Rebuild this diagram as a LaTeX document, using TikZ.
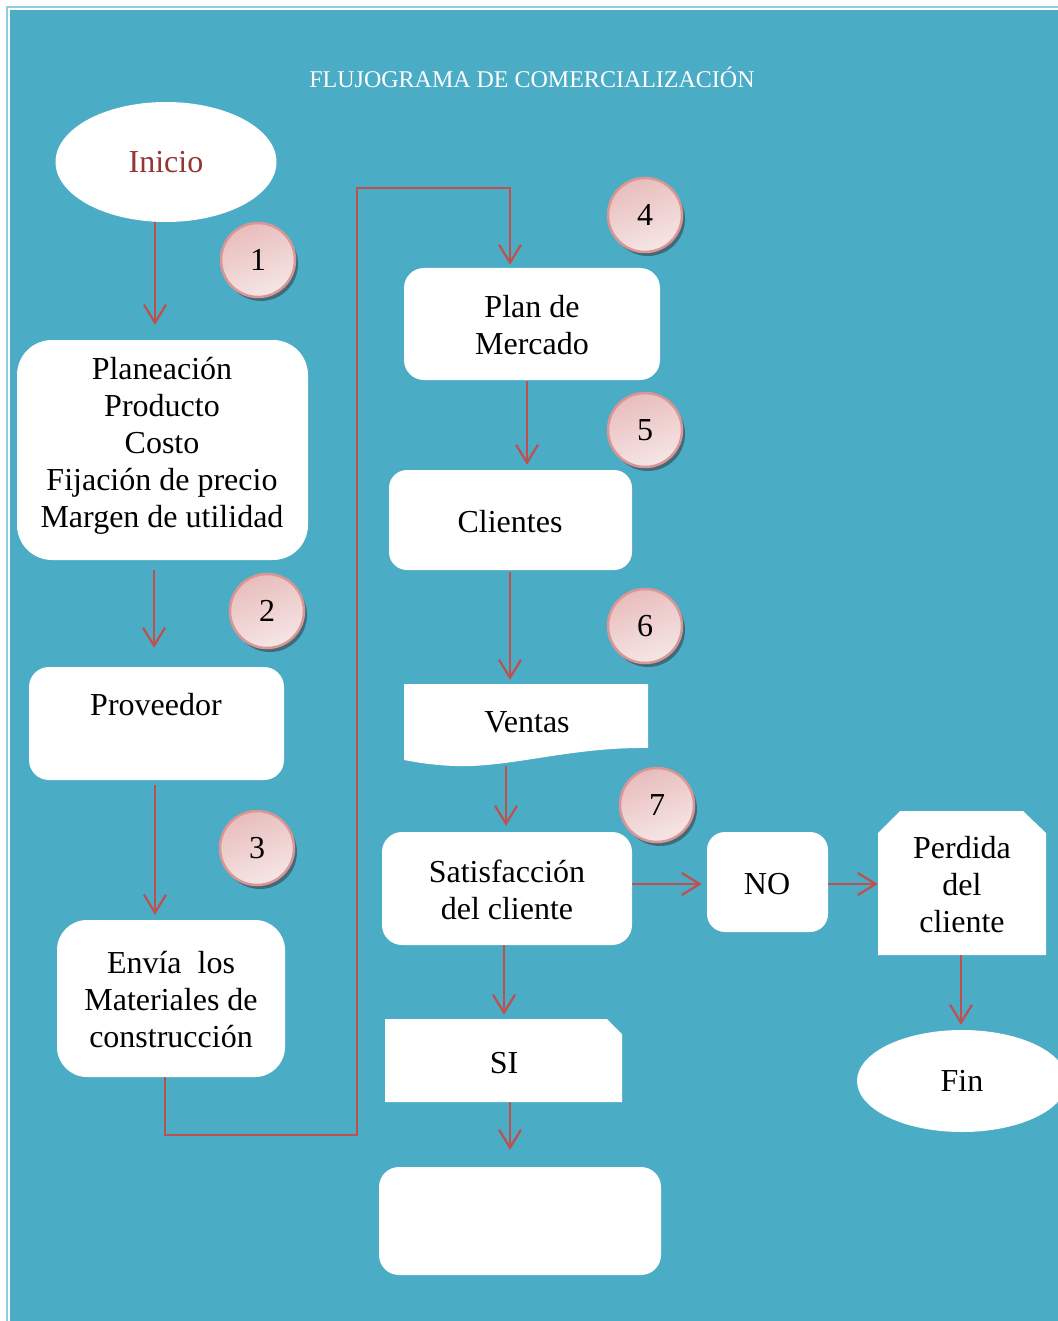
\documentclass[tikz,border=0pt]{standalone}
\usepackage{fontspec}
\setmainfont{Liberation Serif}
\usetikzlibrary{arrows.meta,calc,shapes.geometric,shadows}
\definecolor{aqua}{HTML}{4BACC6}
\definecolor{aqualight}{HTML}{8FCCDC}
\definecolor{arrowred}{HTML}{C0504D}
\definecolor{inired}{HTML}{943634}
\definecolor{pinkA}{HTML}{F6E6E6}
\definecolor{pinkB}{HTML}{E8BDBC}
\definecolor{pinkEdge}{HTML}{D99694}
\definecolor{shadowc}{HTML}{3E6573}
\begin{document}
\begin{tikzpicture}[x=1pt,y=-1pt,
  txt/.style={font=\fontsize{32}{37}\selectfont, align=center, text=black, inner sep=0pt},
  panel/.style={fill=white, rounded corners=#1, inner sep=0pt, draw=none},
  panel/.default=20pt,
  flow/.style={draw=arrowred, line width=2.2pt,
    -{Straight Barb[length=18pt,width=22pt,line width=2.2pt]}},
  badge/.style={circle, minimum size=74pt, inner sep=0pt, draw=pinkEdge, line width=2.5pt,
    shading=axis, top color=pinkA, bottom color=pinkB, shading angle=200,
    drop shadow={shadow xshift=3pt, shadow yshift=-4pt, fill=shadowc, opacity=0.9},
    font=\fontsize{32}{37}\selectfont, text=black}
]
% page and frame
\useasboundingbox (0,0) rectangle (1057,1321);
\fill[white] (0,0) rectangle (1057,1321);
\draw[aqualight, line width=2.5pt] (7,7) rectangle (1062,1330);
\fill[aqua] (10,10) rectangle (1060,1330);

% title
\node[font=\fontsize{24}{28}\selectfont, text=white, inner sep=0pt] (title) at (532,77)
  {FLUJOGRAMA DE COMERCIALIZACIÓN};

% left column
\node[ellipse, fill=white, minimum width=221pt, minimum height=120pt, inner sep=0pt,
  font=\fontsize{32}{37}\selectfont, text=inired] (inicio) at (166,162) {Inicio};

\node[panel=35pt, minimum width=291pt, minimum height=220pt] (planea) at (162.5,450) {};
\node[txt] (planeaT) at (162,446) {Planeación\\Producto\\Costo\\Fijación de precio\\Margen de utilidad};

\node[panel, minimum width=255pt, minimum height=113pt] (prov) at (156.5,723.5) {};
\node[txt] (provT) at (156,705) {Proveedor};

\node[panel=30pt, minimum width=228pt, minimum height=157pt] (envia) at (171,998.5) {};
\node[txt] (enviaT) at (171,1000) {Envía\ \ los\\Materiales de\\construcción};

% middle column
\node[panel, minimum width=256pt, minimum height=112pt] (plan) at (532,324) {};
\node[txt] (planT) at (532,325) {Plan de\\Mercado};

\node[panel=18pt, minimum width=243pt, minimum height=100pt] (clientes) at (510.5,520) {};
\node[txt] (clientesT) at (510,522) {Clientes};

% document-shaped sheet with a wavy lower edge
\fill[white] (404,684) -- (648,684) -- (648,748)
  .. controls (570,747) and (510,768) .. (455,766)
  .. controls (430,765) and (415,762) .. (404,760) -- cycle;
\node[minimum width=244pt, minimum height=82pt, inner sep=0pt] (ventas) at (526,725) {};
\node[txt] (ventasT) at (527,722) {Ventas};

\node[panel, minimum width=250pt, minimum height=113pt] (sat) at (507,888.5) {};
\node[txt] (satT) at (507,890) {Satisfacción\\del cliente};

% card with one clipped corner
\fill[white] (385,1019) -- (607,1019) -- (622,1034) -- (622,1102) -- (385,1102) -- cycle;
\node[minimum width=237pt, minimum height=83pt, inner sep=0pt] (si) at (503.5,1060.5) {};
\node[txt] (siT) at (504,1063) {SI};

\node[panel, minimum width=282pt, minimum height=108pt] (last) at (520,1221) {};

% right column
\node[panel=18pt, minimum width=121pt, minimum height=100pt] (no) at (767.5,882) {};
\node[txt] (noT) at (767,884) {NO};

% card with both upper corners clipped
\fill[white] (878,833) -- (900,811) -- (1023,811) -- (1046,833) -- (1046,955) -- (878,955) -- cycle;
\node[minimum width=168pt, minimum height=144pt, inner sep=0pt] (perd) at (962,883) {};
\node[txt] (perdT) at (962,885) {Perdida\\del\\cliente};

\node[ellipse, fill=white, minimum width=210pt, minimum height=102pt, inner sep=0pt,
  font=\fontsize{32}{37}\selectfont] (fin) at (962,1081) {Fin};

% step numbers
\node[badge] (n1) at (258,260) {1};
\node[badge] (n2) at (267,611) {2};
\node[badge] (n3) at (257,848) {3};
\node[badge] (n4) at (645,215) {4};
\node[badge] (n5) at (645,430) {5};
\node[badge] (n6) at (645,626) {6};
\node[badge] (n7) at (657,805) {7};

% connector columns
\coordinate (xa) at (155,0);
\coordinate (xb) at (154,0);
\coordinate (xc) at (165,0);
\coordinate (xd) at (510,0);
\coordinate (xe) at (527,0);
\coordinate (xf) at (506,0);
\coordinate (xg) at (504,0);
\coordinate (xh) at (961,0);
\coordinate (ya) at (0,884);

% connectors
\draw[flow, shorten >=15pt] (inicio.south -| xa) -- (planea.north -| xa);
\draw[flow, shorten <=10pt, shorten >=19pt] (planea.south -| xb) -- (prov.north -| xb);
\draw[flow, shorten <=5pt, shorten >=5pt] (prov.south -| xa) -- (envia.north -| xa);
\draw[flow, shorten >=3pt] (envia.south -| xc) -- ++(0,58) -| (357,188) -| (plan.north -| xd);
\draw[flow, shorten <=1pt, shorten >=5pt] (plan.south -| xe) -- (clientes.north -| xe);
\draw[flow, shorten <=2pt, shorten >=4pt] (clientes.south -| xd) -- (ventas.north -| xd);
\draw[flow, shorten >=6pt] (ventas.south -| xf) -- (sat.north -| xf);
\draw[flow, shorten >=5pt] (sat.east |- ya) -- (no.west |- ya);
\draw[flow] (no.east |- ya) -- (perd.west |- ya);
\draw[flow, shorten >=5pt] (perd.south -| xh) -- (fin.north -| xh);
\draw[flow, shorten >=4pt] (sat.south -| xg) -- (si.north -| xg);
\draw[flow, shorten >=17pt] (si.south -| xd) -- (last.north -| xd);
\end{tikzpicture}
\end{document}
